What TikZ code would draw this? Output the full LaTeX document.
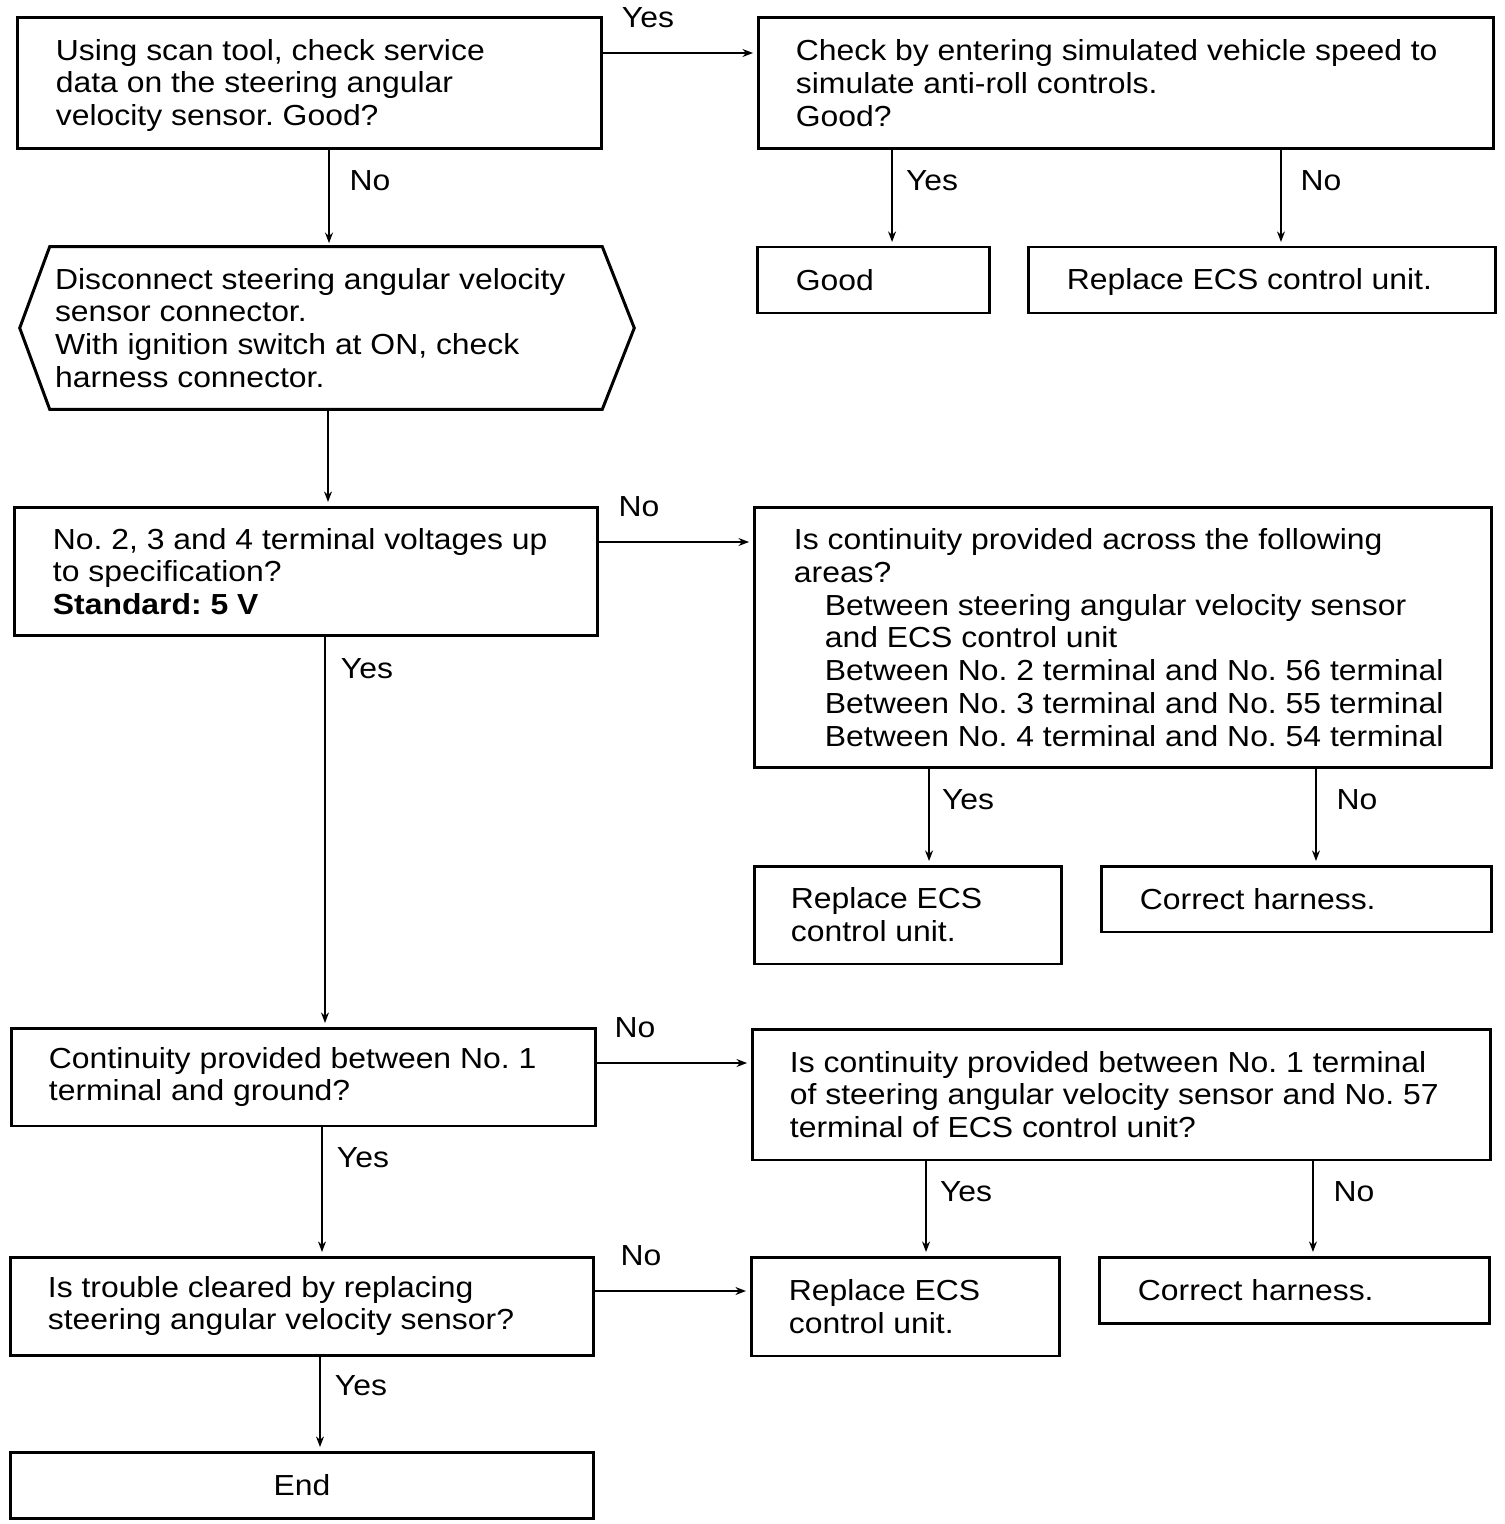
\documentclass[tikz,border=0pt]{standalone}
\usepackage{fontspec}
\setmainfont[FakeStretch=1.1]{Liberation Sans}
\usetikzlibrary{arrows.meta}
\frenchspacing
\begin{document}
\frenchspacing
\begin{tikzpicture}[x=0.02cm,y=-0.02cm,
  box/.style={draw, line width=1.7pt, inner sep=0pt},
  txt/.style={font=\fontsize{16.5}{18.7}\selectfont, align=left, inner sep=0pt, anchor=west},
  lbl/.style={font=\fontsize{16.5}{18.7}\selectfont, inner sep=0pt},
  arr/.style={line width=1.1pt, -{Stealth[length=6pt,width=4.5pt]}, shorten >=2pt}]
\useasboundingbox (0,0) rectangle (1504,1524);

% boxes
\node[box, minimum width=11.7cm, minimum height=2.64cm] (A) at (309.5,83) {};
\node[box, minimum width=14.72cm, minimum height=2.64cm] (B) at (1126,83) {};
\node[box, minimum width=4.66cm, minimum height=1.32cm] (Good) at (873.5,280) {};
\node[box, minimum width=9.36cm, minimum height=1.32cm] (RepTop) at (1262,280) {};
\node[inner sep=0pt, minimum width=11.04cm, minimum height=3.24cm] (H) at (326,328) {};
\draw[line width=1.7pt, line join=miter] (H.north west) -- (H.north east) -- ([xshift=0.64cm]H.east) -- (H.south east) -- (H.south west) -- ([xshift=-0.6cm]H.west) -- cycle;
\node[box, minimum width=11.68cm, minimum height=2.58cm] (C) at (306,571.5) {};
\node[box, minimum width=14.76cm, minimum height=5.22cm] (D) at (1123,637.5) {};
\node[box, minimum width=6.16cm, minimum height=1.96cm] (RepMid) at (908,915) {};
\node[box, minimum width=7.82cm, minimum height=1.32cm] (CorMid) at (1296.5,899) {};
\node[box, minimum width=11.7cm, minimum height=1.96cm] (E) at (303.5,1077) {};
\node[box, minimum width=14.78cm, minimum height=2.62cm] (F) at (1121.5,1094.5) {};
\node[box, minimum width=11.68cm, minimum height=1.96cm] (G) at (302,1306) {};
\node[box, minimum width=6.18cm, minimum height=1.98cm] (RepBot) at (905.5,1306.5) {};
\node[box, minimum width=7.82cm, minimum height=1.32cm] (CorBot) at (1294.5,1290) {};
\node[box, minimum width=11.68cm, minimum height=1.32cm, font=\fontsize{16.5}{18.7}\selectfont] (End) at (302,1485) {End};

% texts
\node[txt] (At) at ([xshift=0.8cm,yshift=-0.05cm]A.west) {Using scan tool, check service\\data on the steering angular\\velocity sensor. Good?};
\node[txt] (Bt) at ([xshift=0.78cm]B.west) {Check by entering simulated vehicle speed to\\simulate anti-roll controls.\\Good?};
\node[txt] (Goodt) at ([xshift=0.8cm]Good.west) {Good};
\node[txt] (RepTopt) at ([xshift=0.8cm,yshift=-0.04cm]RepTop.west) {Replace ECS control unit.};
\node[txt] (Ht) at ([xshift=0.1cm]H.west) {Disconnect steering angular velocity\\sensor connector.\\With ignition switch at ON, check\\harness connector.};
\node[txt] (Ct) at ([xshift=0.8cm]C.west) {No. 2, 3 and 4 terminal voltages up\\to specification?\\\textbf{Standard: 5 V}};
\node[txt] (Dt) at ([xshift=0.82cm]D.west) {Is continuity provided across the following\\areas?\\\hspace*{0.62cm}Between steering angular velocity sensor\\\hspace*{0.62cm}and ECS control unit\\\hspace*{0.62cm}Between No. 2 terminal and No. 56 terminal\\\hspace*{0.62cm}Between No. 3 terminal and No. 55 terminal\\\hspace*{0.62cm}Between No. 4 terminal and No. 54 terminal};
\node[txt] (RepMidt) at ([xshift=0.76cm]RepMid.west) {Replace ECS\\control unit.};
\node[txt] (CorMidt) at ([xshift=0.8cm]CorMid.west) {Correct harness.};
\node[txt] (Et) at ([xshift=0.78cm]E.west) {Continuity provided between No. 1\\terminal and ground?};
\node[txt] (Ft) at ([xshift=0.78cm]F.west) {Is continuity provided between No. 1 terminal\\of steering angular velocity sensor and No. 57\\terminal of ECS control unit?};
\node[txt] (Gt) at ([xshift=0.78cm]G.west) {Is trouble cleared by replacing\\steering angular velocity sensor?};
\node[txt] (RepBott) at ([xshift=0.78cm]RepBot.west) {Replace ECS\\control unit.};
\node[txt] (CorBott) at ([xshift=0.8cm]CorBot.west) {Correct harness.};

% connector start points
\coordinate (ab) at ([yshift=0.6cm]A.east);
\coordinate (ah) at ([xshift=0.39cm]A.south);
\coordinate (bg) at ([xshift=-4.68cm]B.south);
\coordinate (br) at ([xshift=3.1cm]B.south);
\coordinate (hc) at ([xshift=0.04cm]H.south);
\coordinate (cd) at ([yshift=0.59cm]C.east);
\coordinate (ce) at ([xshift=0.38cm]C.south);
\coordinate (dr) at ([xshift=-3.88cm]D.south);
\coordinate (dc) at ([xshift=3.86cm]D.south);
\coordinate (ef) at ([yshift=0.28cm]E.east);
\coordinate (eg) at ([xshift=0.37cm]E.south);
\coordinate (fr) at ([xshift=-3.91cm]F.south);
\coordinate (fc) at ([xshift=3.83cm]F.south);
\coordinate (gr) at ([yshift=0.3cm]G.east);
\coordinate (ge) at ([xshift=0.36cm]G.south);

% connectors
\draw[arr] (ab) -- (ab -| B.west);
\draw[arr] (ah) -- (ah |- H.north);
\draw[arr] (bg) -- (bg |- Good.north);
\draw[arr] (br) -- (br |- RepTop.north);
\draw[arr] (hc) -- (hc |- C.north);
\draw[arr] (cd) -- (cd -| D.west);
\draw[arr] (ce) -- (ce |- E.north);
\draw[arr] (dr) -- (dr |- RepMid.north);
\draw[arr] (dc) -- (dc |- CorMid.north);
\draw[arr] (ef) -- (ef -| F.west);
\draw[arr] (eg) -- (eg |- G.north);
\draw[arr] (fr) -- (fr |- RepBot.north);
\draw[arr] (fc) -- (fc |- CorBot.north);
\draw[arr] (gr) -- (gr -| RepBot.west);
\draw[arr] (ge) -- (ge |- End.north);

% labels
\node[lbl] (l1) at (648,18) {Yes};
\node[lbl] (l2) at (370,181) {No};
\node[lbl] (l3) at (932,181) {Yes};
\node[lbl] (l4) at (1321,181) {No};
\node[lbl] (l5) at (639,507) {No};
\node[lbl] (l6) at (367,669) {Yes};
\node[lbl] (l7) at (968,800) {Yes};
\node[lbl] (l8) at (1357,800) {No};
\node[lbl] (l9) at (635,1028) {No};
\node[lbl] (l10) at (363,1158) {Yes};
\node[lbl] (l11) at (966,1192) {Yes};
\node[lbl] (l12) at (1354,1192) {No};
\node[lbl] (l13) at (641,1256) {No};
\node[lbl] (l14) at (361,1386) {Yes};
\end{tikzpicture}
\end{document}
